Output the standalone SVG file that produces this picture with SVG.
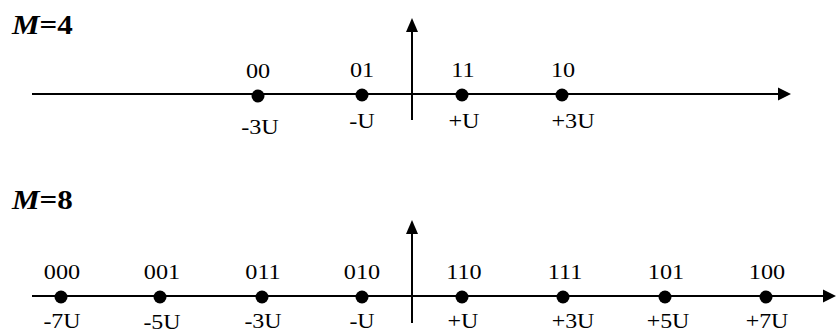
<svg xmlns="http://www.w3.org/2000/svg" width="836" height="333" viewBox="0 0 836 333">
<defs>
<style>
.ax{stroke:#000;stroke-width:2;fill:none}
.ah{fill:#000}
.dot{fill:#000}
.t{font-family:"Liberation Serif","Times New Roman",serif;font-size:22px;fill:#000;text-anchor:middle}
.b{font-size:21px}
.m{font-family:"Liberation Serif","Times New Roman",serif;font-weight:bold;font-size:27px;fill:#000}
.mi{font-style:italic}
</style>
</defs>
<rect width="836" height="333" fill="#fff"/>
<g id="title4"><text class="m" transform="translate(12,34) scale(1.15,1)"><tspan class="mi">M</tspan>=4</text></g>
<g id="title8"><text class="m" transform="translate(12,209) scale(1.15,1)"><tspan class="mi">M</tspan>=8</text></g>
<g id="connectors">
<line class="ax" x1="32" y1="94" x2="780" y2="94"/>
<polygon class="ah" points="791,94 778,87.5 778,100.5"/>
<line class="ax" x1="412" y1="120" x2="412" y2="30"/>
<polygon class="ah" points="412,18 406,32 418,32"/>
<line class="ax" x1="32" y1="296" x2="825" y2="296"/>
<polygon class="ah" points="836,296 823,289.5 823,302.5"/>
<line class="ax" x1="412" y1="323" x2="412" y2="232"/>
<polygon class="ah" points="412,220 406,234 418,234"/>
</g>
<g id="n00"><circle class="dot" cx="258" cy="96" r="6.5"/><text class="t" transform="translate(258,78) scale(1.1,1)">00</text><text class="t" transform="translate(260,134) scale(1.1,1)">-3U</text></g>
<g id="n01"><circle class="dot" cx="362" cy="95" r="6.5"/><text class="t" transform="translate(362,77) scale(1.1,1)">01</text><text class="t" transform="translate(362,128) scale(1.1,1)">-U</text></g>
<g id="n11"><circle class="dot" cx="462" cy="95" r="6.5"/><text class="t" transform="translate(463,77) scale(1.1,1)">11</text><text class="t" transform="translate(464,128) scale(1.1,1)">+U</text></g>
<g id="n10"><circle class="dot" cx="562" cy="95" r="6.5"/><text class="t" transform="translate(563,77) scale(1.1,1)">10</text><text class="t" transform="translate(573,128) scale(1.1,1)">+3U</text></g>
<g id="n000"><circle class="dot" cx="61" cy="297" r="6.5"/><text class="t" transform="translate(62,279) scale(1.1,1)">000</text><text class="t b" transform="translate(62,328) scale(1.14,1)">-7U</text></g>
<g id="n001"><circle class="dot" cx="160" cy="297" r="6.5"/><text class="t" transform="translate(162,279) scale(1.1,1)">001</text><text class="t b" transform="translate(162,329) scale(1.14,1)">-5U</text></g>
<g id="n011"><circle class="dot" cx="262" cy="297" r="6.5"/><text class="t" transform="translate(263,279) scale(1.1,1)">011</text><text class="t b" transform="translate(263,328) scale(1.14,1)">-3U</text></g>
<g id="n010"><circle class="dot" cx="362" cy="297" r="6.5"/><text class="t" transform="translate(362,279) scale(1.1,1)">010</text><text class="t b" transform="translate(362,328) scale(1.14,1)">-U</text></g>
<g id="n110"><circle class="dot" cx="462" cy="297" r="6.5"/><text class="t" transform="translate(464,279) scale(1.1,1)">110</text><text class="t b" transform="translate(463,328) scale(1.14,1)">+U</text></g>
<g id="n111"><circle class="dot" cx="563" cy="297" r="6.5"/><text class="t" transform="translate(565,279) scale(1.1,1)">111</text><text class="t b" transform="translate(573,328) scale(1.14,1)">+3U</text></g>
<g id="n101"><circle class="dot" cx="665" cy="297" r="6.5"/><text class="t" transform="translate(666,279) scale(1.1,1)">101</text><text class="t b" transform="translate(668,328) scale(1.14,1)">+5U</text></g>
<g id="n100"><circle class="dot" cx="766" cy="297" r="6.5"/><text class="t" transform="translate(767,279) scale(1.1,1)">100</text><text class="t b" transform="translate(767,328) scale(1.14,1)">+7U</text></g>
</svg>
